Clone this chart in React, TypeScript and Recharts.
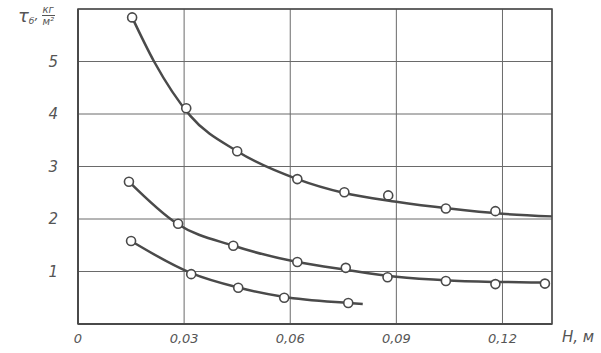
import * as React from "react"
import {
  ComposedChart,
  Line,
  Scatter,
  XAxis,
  YAxis,
  CartesianGrid,
  ReferenceArea,
} from "recharts"

// H, m
const xTicks = [0, 0.03, 0.06, 0.09, 0.12]
const yTicks = [0, 1, 2, 3, 4, 5]

// smooth curves as drawn in the figure
const topCurve = [
  { x: 0.0153, y: 5.84 },
  { x: 0.0215, y: 5.0 },
  { x: 0.0317, y: 3.97 },
  { x: 0.045, y: 3.29 },
  { x: 0.062, y: 2.76 },
  { x: 0.075, y: 2.5 },
  { x: 0.09, y: 2.33 },
  { x: 0.105, y: 2.2 },
  { x: 0.12, y: 2.1 },
  { x: 0.134, y: 2.05 },
]
const middleCurve = [
  { x: 0.0144, y: 2.71 },
  { x: 0.028, y: 1.91 },
  { x: 0.044, y: 1.49 },
  { x: 0.062, y: 1.18 },
  { x: 0.076, y: 1.03 },
  { x: 0.09, y: 0.9 },
  { x: 0.105, y: 0.83 },
  { x: 0.12, y: 0.8 },
  { x: 0.133, y: 0.79 },
]
const lowerCurve = [
  { x: 0.015, y: 1.58 },
  { x: 0.032, y: 0.97 },
  { x: 0.045, y: 0.7 },
  { x: 0.058, y: 0.52 },
  { x: 0.0765, y: 0.4 },
  { x: 0.0805, y: 0.38 },
]

// measured points (open circles)
const topPoints = [
  { x: 0.0153, y: 5.84 },
  { x: 0.0306, y: 4.11 },
  { x: 0.045, y: 3.29 },
  { x: 0.062, y: 2.76 },
  { x: 0.0753, y: 2.51 },
  { x: 0.0877, y: 2.45 },
  { x: 0.104, y: 2.2 },
  { x: 0.118, y: 2.15 },
]
const middlePoints = [
  { x: 0.0144, y: 2.71 },
  { x: 0.0283, y: 1.91 },
  { x: 0.0439, y: 1.49 },
  { x: 0.062, y: 1.18 },
  { x: 0.0757, y: 1.07 },
  { x: 0.0875, y: 0.89 },
  { x: 0.104, y: 0.82 },
  { x: 0.118, y: 0.76 },
  { x: 0.132, y: 0.77 },
]
const lowerPoints = [
  { x: 0.015, y: 1.58 },
  { x: 0.032, y: 0.95 },
  { x: 0.0453, y: 0.69 },
  { x: 0.0583, y: 0.5 },
  { x: 0.0764, y: 0.4 },
]

const INK = "#4a4a4a"
const LABEL = "#555"

const OpenCircle = (props: any) => (
  <circle cx={props.cx} cy={props.cy} r={4.5} fill="#fff" stroke={INK} strokeWidth={1.6} />
)

const fmtX = (v: number) => (v === 0 ? "0" : v.toFixed(2).replace(".", ","))

export default function App() {
  return (
    <div style={{ position: "fixed", left: 0, top: 0, width: 601, height: 353, background: "#fff" }}>
      <ComposedChart
        width={601}
        height={353}
        margin={{ top: 9, right: 49, bottom: 0, left: 0 }}
      >
        <CartesianGrid stroke="#6a6a6a" strokeWidth={1} />
        <XAxis
          type="number"
          dataKey="x"
          domain={[0, 0.134]}
          ticks={xTicks}
          height={29}
          tickFormatter={fmtX}
          axisLine={{ stroke: INK, strokeWidth: 2 }}
          tickLine={false}
          tickMargin={4}
          tick={{ fill: LABEL, fontSize: 13, fontStyle: "italic", fontFamily: "DejaVu Sans" }}
          allowDuplicatedCategory={false}
        />
        <YAxis
          type="number"
          dataKey="y"
          domain={[0, 6]}
          ticks={yTicks}
          width={78}
          tickFormatter={(v: number) => (v === 0 ? "" : String(v))}
          axisLine={{ stroke: INK, strokeWidth: 2 }}
          tickLine={false}
          tickMargin={14}
          tick={{ fill: LABEL, fontSize: 15, fontStyle: "italic", fontFamily: "DejaVu Sans" }}
        />
        <ReferenceArea x1={0} x2={0.134} y1={0} y2={6} fill="none" stroke={INK} strokeWidth={1.5} ifOverflow="visible" />
        <Line data={topCurve} dataKey="y" type="monotone" stroke={INK} strokeWidth={2.5} dot={false} isAnimationActive={false} />
        <Line data={middleCurve} dataKey="y" type="monotone" stroke={INK} strokeWidth={2.5} dot={false} isAnimationActive={false} />
        <Line data={lowerCurve} dataKey="y" type="monotone" stroke={INK} strokeWidth={2.5} dot={false} isAnimationActive={false} />
        <Scatter data={topPoints} dataKey="y" shape={OpenCircle} isAnimationActive={false} />
        <Scatter data={middlePoints} dataKey="y" shape={OpenCircle} isAnimationActive={false} />
        <Scatter data={lowerPoints} dataKey="y" shape={OpenCircle} isAnimationActive={false} />
      </ComposedChart>
      <div style={{ position: "absolute", left: 562, top: 328, color: LABEL, fontFamily: "DejaVu Sans", fontStyle: "italic", fontSize: 15 }}>
        H, м
      </div>
      <div style={{ position: "absolute", left: 18, top: 4, color: LABEL, fontFamily: "DejaVu Sans", fontStyle: "italic", display: "flex", alignItems: "center" }}>
        <span style={{ fontSize: 18 }}>τ</span>
        <span style={{ fontSize: 9, marginTop: 10 }}>б</span>
        <span style={{ fontSize: 13, marginRight: 3 }}>,</span>
        <span style={{ display: "inline-flex", flexDirection: "column", alignItems: "center", fontSize: 10, lineHeight: "11px" }}>
          <span style={{ borderBottom: `1px solid ${LABEL}`, padding: "0 1px" }}>кг</span>
          <span>м²</span>
        </span>
      </div>
    </div>
  )
}
